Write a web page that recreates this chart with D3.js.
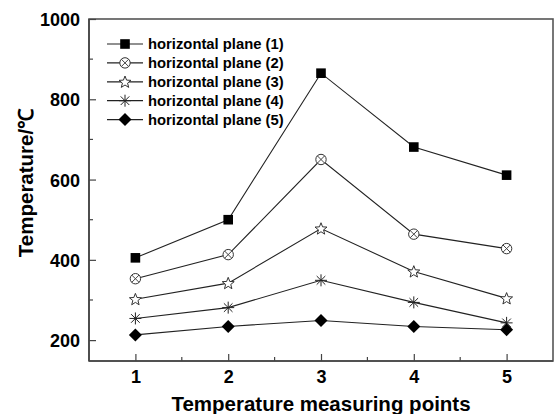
<!DOCTYPE html>
<html><head><meta charset="utf-8">
<script src="https://cdn.jsdelivr.net/npm/d3@7"></script>
<style>body{margin:0;background:#fff}svg{display:block}text{font-family:"Liberation Sans",Arial,sans-serif;font-weight:bold;fill:#000}</style>
</head><body>
<svg id="c" width="556" height="414"></svg>
<script>
const points = [1, 2, 3, 4, 5];
const seriesNames = ["horizontal plane (1)", "horizontal plane (2)", "horizontal plane (3)", "horizontal plane (4)", "horizontal plane (5)"];
const plane1 = [405, 500, 865, 681, 611];
const plane2 = [353, 413, 650, 464, 428];
const plane3 = [302, 342, 478, 371, 304];
const plane4 = [254, 281, 349, 294, 243];
const plane5 = [213, 234, 249, 234, 226];
const yTicks = [200, 400, 600, 800, 1000];
const xTicks = [1, 2, 3, 4, 5];
const markers = ["square", "circlex", "star", "asterisk", "diamond"];
const seriesValues = [plane1, plane2, plane3, plane4, plane5];

const svg = d3.select("#c");
const L = 89, R = 553, T = 19, B = 361;
const x = d3.scaleLinear().domain([0.5, 5.5]).range([L, R]);
const y = d3.scaleLinear().domain([148, 1000]).range([B, T]);

// frame
svg.append("rect").attr("x", L).attr("y", T).attr("width", R - L).attr("height", B - T)
  .attr("fill", "none").attr("stroke", "#555").attr("stroke-width", 1.6);

// axes
const xAxis = d3.axisBottom(x).tickValues(xTicks).tickSize(-7).tickPadding(16).tickFormat(d3.format("d"));
const gx = svg.append("g").attr("transform", `translate(0,${B})`).call(xAxis);
const yAxis = d3.axisLeft(y).tickValues(yTicks).tickSize(-7).tickPadding(16).tickFormat(d3.format("d"));
const gy = svg.append("g").attr("transform", `translate(${L},0)`).call(yAxis);
[gx, gy].forEach(g => {
  g.select(".domain").remove();
  g.selectAll(".tick line").attr("stroke", "#444").attr("stroke-width", 1.2);
  g.selectAll(".tick text").style("font-size", "18px").attr("fill", "#000");
});
gy.selectAll(".tick text").attr("dy", "0.36em").attr("x", -9);
gx.selectAll(".tick text").attr("dy", "0.71em").attr("y", 9);
// minor ticks
const xMinor = [1.5, 2.5, 3.5, 4.5];
const yMinor = [300, 500, 700, 900];
svg.append("g").selectAll("line").data(xMinor).join("line")
  .attr("x1", d => x(d)).attr("x2", d => x(d)).attr("y1", B).attr("y2", B - 4)
  .attr("stroke", "#444").attr("stroke-width", 1.2);
svg.append("g").selectAll("line").data(yMinor).join("line")
  .attr("x1", L).attr("x2", L + 4).attr("y1", d => y(d)).attr("y2", d => y(d))
  .attr("stroke", "#444").attr("stroke-width", 1.2);
svg.append("line").attr("x1", L).attr("x2", R).attr("y1", B).attr("y2", B).attr("stroke", "#444").attr("stroke-width", 1.6);
svg.append("line").attr("x1", L).attr("x2", L).attr("y1", T).attr("y2", B).attr("stroke", "#444").attr("stroke-width", 1.6);

// axis labels
svg.append("text").attr("x", 321).attr("y", 411).attr("text-anchor", "middle")
  .style("font-size", "20.5px").text("Temperature measuring points");
svg.append("text").attr("transform", `translate(33,183) rotate(-90)`).attr("text-anchor", "middle")
  .style("font-size", "20.5px").text("Temperature/℃");

function drawMarker(g, type, cx, cy) {
  const s = g.append("g").attr("transform", `translate(${cx},${cy})`);
  if (type === "square") {
    s.append("rect").attr("x", -4.8).attr("y", -4.8).attr("width", 9.6).attr("height", 9.6).attr("fill", "#000");
  } else if (type === "diamond") {
    s.append("path").attr("d", "M0,-6.5L6.5,0L0,6.5L-6.5,0Z").attr("fill", "#000");
  } else if (type === "circlex") {
    s.append("circle").attr("r", 5.2).attr("fill", "#fff").attr("stroke", "#333").attr("stroke-width", 1);
    s.append("path").attr("d", "M-3.7,-3.7L3.7,3.7M-3.7,3.7L3.7,-3.7").attr("stroke", "#444").attr("stroke-width", 1);
  } else if (type === "star") {
    const pts = [];
    for (let i = 0; i < 10; i++) {
      const r = i % 2 === 0 ? 6.3 : 2.7;
      const a = -Math.PI / 2 + i * Math.PI / 5;
      pts.push([r * Math.cos(a), r * Math.sin(a) + 0.5]);
    }
    s.append("path").attr("d", "M" + pts.map(p => p.join(",")).join("L") + "Z")
      .attr("fill", "#fff").attr("stroke", "#333").attr("stroke-width", 1);
  } else if (type === "asterisk") {
    s.append("path").attr("d", "M-6,0L6,0M0,-6L0,6M-4.3,-4.3L4.3,4.3M-4.3,4.3L4.3,-4.3")
      .attr("stroke", "#222").attr("stroke-width", 1);
  }
}

const line = d3.line().x((d, i) => x(points[i])).y(d => y(d));
seriesValues.forEach((vals) => {
  svg.append("path").attr("d", line(vals)).attr("fill", "none").attr("stroke", "#222").attr("stroke-width", 1.1);
});
seriesValues.forEach((vals, k) => {
  const g = svg.append("g");
  vals.forEach((v, i) => drawMarker(g, markers[k], x(points[i]), y(v)));
});

// legend
const lg = svg.append("g");
seriesNames.forEach((name, k) => {
  const ly = 44 + k * 18.9;
  lg.append("line").attr("x1", 107).attr("x2", 143).attr("y1", ly).attr("y2", ly).attr("stroke", "#222").attr("stroke-width", 1.2);
  drawMarker(lg, markers[k], 125, ly);
  lg.append("text").attr("x", 148).attr("y", ly).attr("dy", "0.36em").style("font-size", "14.8px").text(name);
});
</script>
</body></html>
